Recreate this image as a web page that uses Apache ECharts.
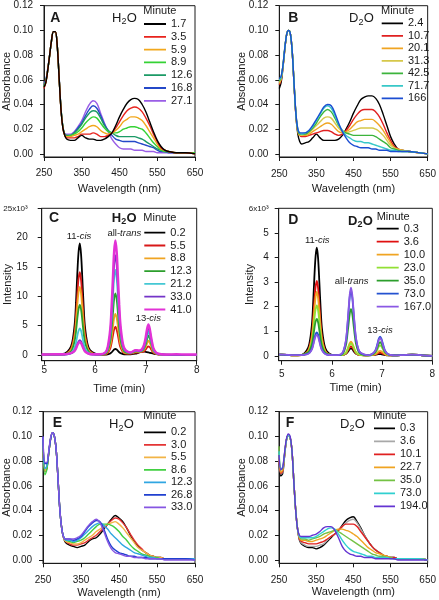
<!DOCTYPE html>
<html><head><meta charset="utf-8">
<script src="https://cdn.jsdelivr.net/npm/echarts@6/dist/echarts.min.js"></script>
<style>html,body{margin:0;padding:0;background:#fff}#c{width:439px;height:600px}</style>
</head><body><div id="c"></div>
<script>
// ---------- DATA ----------
const wavelength = [250,255,260,265,270,275,280,285,290,295,300,305,310,320,330,340,350,360,370,380,390,400,410,420,430,440,450,460,470,480,490,500,510,520,530,540,550,560,570,580,600,625,650];
const wlTicks = [250,350,450,550,650];
const absTicks = [0,0.02,0.04,0.06,0.08,0.10,0.12];
const timeTicks = [5,6,7,8];
const intTicksC = [0,5,10,15,20,25];
const intTicksD = [0,1,2,3,4,5,6];

const minutesA = ['1.7','3.5','5.9','8.9','12.6','16.8','27.1'];
const minutesB = ['2.4','10.7','20.1','31.3','42.5','71.7','166'];
const minutesC = ['0.2','5.5','8.8','12.3','21.2','33.0','41.0'];
const minutesD = ['0.3','3.6','10.0','23.0','35.0','73.0','167.0'];
const minutesE = ['0.2','3.0','5.5','8.6','12.3','26.8','33.0'];
const minutesF = ['0.3','3.6','10.1','22.7','35.0','73.0','194.0'];

// Panel A (H2O)
const absA1 = [0.054,0.058,0.068,0.080,0.092,0.099,0.099,0.088,0.062,0.036,0.021,0.015,0.012,0.011,0.011,0.013,0.015,0.013,0.012,0.012,0.011,0.011,0.012,0.014,0.017,0.023,0.030,0.036,0.041,0.044,0.045,0.044,0.040,0.034,0.026,0.018,0.011,0.006,0.003,0.002,0.001,0.001,0.000];
const absA2 = [0.053,0.058,0.068,0.080,0.092,0.099,0.099,0.088,0.062,0.036,0.021,0.015,0.013,0.013,0.013,0.014,0.016,0.016,0.016,0.017,0.016,0.014,0.014,0.015,0.017,0.021,0.026,0.031,0.035,0.037,0.038,0.037,0.034,0.029,0.023,0.016,0.010,0.005,0.003,0.002,0.001,0.001,0.000];
const absA3 = [0.054,0.058,0.068,0.080,0.092,0.099,0.099,0.088,0.062,0.036,0.021,0.015,0.014,0.014,0.015,0.016,0.018,0.020,0.022,0.023,0.022,0.019,0.017,0.016,0.017,0.019,0.022,0.026,0.028,0.030,0.030,0.029,0.027,0.023,0.018,0.013,0.008,0.004,0.003,0.002,0.001,0.001,0.000];
const absA4 = [0.055,0.059,0.068,0.080,0.092,0.099,0.099,0.088,0.062,0.037,0.022,0.015,0.014,0.015,0.016,0.018,0.021,0.025,0.028,0.030,0.029,0.025,0.021,0.018,0.017,0.017,0.018,0.020,0.021,0.022,0.022,0.021,0.020,0.017,0.013,0.009,0.006,0.003,0.002,0.002,0.001,0.001,0.001];
const absA5 = [0.055,0.059,0.068,0.080,0.092,0.099,0.099,0.088,0.062,0.037,0.022,0.016,0.015,0.015,0.017,0.020,0.024,0.029,0.033,0.035,0.034,0.029,0.023,0.019,0.017,0.015,0.014,0.014,0.014,0.014,0.014,0.013,0.012,0.010,0.008,0.006,0.004,0.003,0.002,0.002,0.001,0.001,0.001];
const absA6 = [0.056,0.060,0.069,0.080,0.092,0.099,0.099,0.088,0.062,0.037,0.022,0.016,0.015,0.015,0.017,0.021,0.025,0.031,0.036,0.039,0.037,0.031,0.024,0.019,0.015,0.012,0.011,0.010,0.010,0.010,0.010,0.009,0.008,0.007,0.006,0.005,0.003,0.002,0.002,0.001,0.001,0.001,0.001];
const absA7 = [0.057,0.060,0.069,0.080,0.092,0.099,0.099,0.088,0.063,0.037,0.022,0.016,0.016,0.016,0.018,0.022,0.027,0.034,0.040,0.043,0.041,0.033,0.025,0.018,0.012,0.008,0.005,0.004,0.004,0.004,0.003,0.003,0.003,0.002,0.002,0.002,0.001,0.001,0.001,0.001,0.001,0.001,0.001];

// Panel B (D2O)
const absB1 = [0.053,0.058,0.070,0.085,0.097,0.100,0.097,0.082,0.055,0.030,0.016,0.010,0.008,0.009,0.010,0.013,0.016,0.013,0.011,0.011,0.011,0.011,0.012,0.015,0.020,0.026,0.033,0.039,0.044,0.046,0.047,0.047,0.045,0.040,0.032,0.023,0.014,0.008,0.004,0.003,0.002,0.001,0.000];
const absB2 = [0.056,0.060,0.071,0.085,0.097,0.100,0.097,0.082,0.055,0.031,0.018,0.015,0.014,0.014,0.015,0.016,0.017,0.018,0.019,0.019,0.018,0.016,0.015,0.016,0.019,0.023,0.028,0.032,0.035,0.036,0.036,0.036,0.034,0.030,0.024,0.017,0.011,0.006,0.004,0.003,0.002,0.001,0.000];
const absB3 = [0.057,0.061,0.071,0.085,0.097,0.100,0.097,0.082,0.056,0.031,0.018,0.015,0.015,0.015,0.016,0.018,0.020,0.022,0.024,0.025,0.024,0.021,0.018,0.017,0.018,0.020,0.023,0.026,0.027,0.028,0.028,0.028,0.026,0.023,0.019,0.014,0.009,0.005,0.004,0.003,0.002,0.001,0.000];
const absB4 = [0.058,0.061,0.071,0.085,0.097,0.100,0.097,0.082,0.056,0.031,0.019,0.016,0.015,0.016,0.017,0.020,0.023,0.026,0.029,0.030,0.029,0.025,0.021,0.018,0.017,0.018,0.019,0.020,0.021,0.021,0.021,0.021,0.020,0.018,0.015,0.011,0.007,0.005,0.003,0.003,0.002,0.001,0.000];
const absB5 = [0.059,0.062,0.072,0.086,0.097,0.100,0.097,0.082,0.056,0.032,0.019,0.016,0.016,0.016,0.018,0.021,0.025,0.030,0.034,0.036,0.034,0.029,0.023,0.019,0.017,0.016,0.015,0.015,0.015,0.015,0.015,0.015,0.014,0.012,0.010,0.008,0.005,0.004,0.003,0.002,0.002,0.001,0.000];
const absB6 = [0.060,0.062,0.072,0.086,0.097,0.100,0.097,0.082,0.056,0.032,0.020,0.017,0.016,0.017,0.019,0.022,0.027,0.032,0.037,0.039,0.037,0.031,0.024,0.019,0.015,0.013,0.011,0.010,0.010,0.009,0.009,0.008,0.007,0.006,0.005,0.004,0.003,0.003,0.002,0.002,0.002,0.001,0.000];
const absB7 = [0.061,0.063,0.072,0.086,0.097,0.100,0.097,0.082,0.056,0.032,0.020,0.017,0.017,0.017,0.019,0.023,0.028,0.033,0.038,0.040,0.039,0.033,0.025,0.018,0.013,0.009,0.007,0.006,0.005,0.005,0.005,0.004,0.004,0.003,0.003,0.003,0.002,0.002,0.002,0.002,0.002,0.001,0.000];

// Panel C (HPLC, H2O), intensity in 10^3
const timeC = [4.95,5.0,5.2,5.4,5.5,5.55,5.6,5.625,5.65,5.675,5.7,5.725,5.75,5.775,5.8,5.85,5.9,6.0,6.1,6.2,6.25,6.3,6.325,6.35,6.375,6.4,6.425,6.45,6.475,6.5,6.55,6.6,6.7,6.8,6.85,6.9,6.95,6.975,7.0,7.025,7.05,7.075,7.1,7.125,7.15,7.2,7.25,7.3,7.4,7.6,7.8,8.0];
const intC1 = [0.05,0.05,0.05,0.2,1.0,2.1,5.3,8.9,13.7,17.5,19.0,17.1,12.9,8.4,4.9,1.9,0.8,0.2,0.05,0.05,0.1,0.25,0.42,0.66,0.9,1.0,0.9,0.68,0.45,0.3,0.14,0.08,0.1,0.2,0.35,0.5,0.55,0.55,0.5,0.45,0.4,0.35,0.3,0.25,0.2,0.12,0.08,0.05,0.02,0.0,0.0,0.0];
const intC2 = [0.05,0.05,0.05,0.1,0.7,1.6,3.9,6.6,10.2,13.0,14.1,12.7,9.6,6.2,3.7,1.4,0.6,0.1,0.05,0.1,0.35,1.1,2.0,3.2,4.3,4.8,4.3,3.3,2.1,1.25,0.45,0.2,0.2,0.4,0.4,0.45,0.55,0.7,0.95,1.25,1.45,1.3,1.0,0.6,0.35,0.15,0.05,0.02,0.0,0.0,0.0,0.0];
const intC3 = [0.05,0.05,0.05,0.1,0.6,1.3,3.2,5.5,8.4,10.7,11.6,10.4,7.9,5.1,3.0,1.2,0.5,0.1,0.05,0.15,0.5,1.6,2.9,4.6,6.3,7.0,6.3,4.8,3.1,1.8,0.65,0.3,0.25,0.5,0.5,0.55,0.75,1.0,1.4,2.0,2.4,2.1,1.5,0.9,0.5,0.2,0.1,0.03,0.0,0.0,0.0,0.0];
const intC4 = [0.05,0.05,0.05,0.1,0.4,0.9,2.4,4.0,6.1,7.8,8.5,7.7,5.8,3.7,2.2,0.9,0.3,0.1,0.05,0.2,0.7,2.4,4.4,6.9,9.5,10.5,9.5,7.1,4.6,2.7,0.95,0.4,0.3,0.6,0.55,0.6,0.9,1.3,1.9,2.7,3.3,2.9,2.1,1.3,0.7,0.25,0.1,0.03,0.0,0.0,0.0,0.0];
const intC5 = [0.05,0.05,0.05,0.05,0.2,0.5,1.3,2.1,3.2,4.1,4.5,4.1,3.1,2.0,1.2,0.5,0.2,0.05,0.05,0.3,1.0,3.3,6.1,9.6,13.1,14.5,13.1,9.9,6.4,3.8,1.3,0.6,0.35,0.7,0.6,0.65,1.0,1.6,2.3,3.3,4.0,3.5,2.5,1.5,0.8,0.3,0.1,0.05,0.0,0.0,0.0,0.0];
const intC6 = [0.05,0.05,0.05,0.05,0.15,0.3,0.7,1.2,1.8,2.3,2.5,2.3,1.7,1.1,0.7,0.3,0.1,0.05,0.05,0.35,1.2,3.9,7.1,11.2,15.3,17.0,15.3,11.6,7.5,4.4,1.5,0.7,0.4,0.75,0.65,0.7,1.1,1.8,2.7,3.8,4.6,4.1,2.9,1.8,1.0,0.35,0.15,0.1,0.0,0.0,0.0,0.0];
const intC7 = [0.1,0.05,0.1,0.1,0.25,0.4,0.7,1.1,1.6,2.0,2.2,2.0,1.5,1.0,0.6,0.3,0.15,0.1,0.1,0.4,1.4,4.5,8.2,12.9,17.6,19.5,17.6,13.3,8.6,5.1,1.8,0.8,0.4,0.8,0.75,0.8,1.4,2.1,3.2,4.5,5.2,4.5,3.2,2.0,1.1,0.4,0.2,0.1,0.05,0.1,0.05,0.05];

// Panel D (HPLC, D2O), intensity in 10^3
const timeD = [4.95,5.0,5.2,5.4,5.5,5.55,5.6,5.625,5.65,5.675,5.7,5.725,5.75,5.775,5.8,5.85,5.9,6.0,6.1,6.18,6.23,6.28,6.305,6.33,6.355,6.38,6.405,6.43,6.455,6.48,6.53,6.58,6.7,6.76,6.81,6.86,6.885,6.91,6.935,6.96,6.985,7.01,7.035,7.06,7.11,7.16,7.25,7.4,7.6,7.8,8.0];
const intD1 = [0.05,0.05,0.02,0.04,0.22,0.48,1.23,2.07,3.17,4.05,4.4,3.96,2.99,1.94,1.14,0.44,0.18,0.04,0.03,0.03,0.04,0.08,0.13,0.2,0.27,0.3,0.27,0.2,0.13,0.08,0.04,0.03,0.02,0.02,0.03,0.04,0.05,0.06,0.07,0.07,0.06,0.05,0.04,0.03,0.02,0.02,0.02,0.03,0.05,0.02,0.0];
const intD2 = [0.05,0.05,0.02,0.03,0.15,0.34,0.85,1.43,2.2,2.81,3.05,2.75,2.07,1.34,0.79,0.31,0.12,0.03,0.03,0.03,0.04,0.09,0.16,0.25,0.34,0.38,0.34,0.26,0.17,0.1,0.04,0.03,0.02,0.03,0.04,0.05,0.07,0.09,0.12,0.13,0.12,0.09,0.07,0.05,0.03,0.02,0.02,0.03,0.05,0.02,0.0];
const intD3 = [0.05,0.05,0.02,0.03,0.13,0.29,0.73,1.22,1.87,2.39,2.6,2.34,1.77,1.14,0.68,0.26,0.1,0.03,0.03,0.03,0.05,0.13,0.24,0.38,0.51,0.57,0.51,0.39,0.25,0.15,0.05,0.03,0.02,0.03,0.04,0.06,0.09,0.13,0.18,0.2,0.18,0.14,0.1,0.06,0.03,0.02,0.02,0.03,0.05,0.02,0.0];
const intD4 = [0.05,0.05,0.02,0.03,0.1,0.23,0.57,0.96,1.48,1.89,2.05,1.85,1.39,0.9,0.53,0.21,0.08,0.03,0.03,0.03,0.05,0.12,0.21,0.33,0.45,0.5,0.45,0.34,0.22,0.13,0.05,0.03,0.02,0.03,0.05,0.11,0.18,0.27,0.38,0.42,0.38,0.29,0.19,0.12,0.05,0.03,0.02,0.03,0.05,0.02,0.0];
const intD5 = [0.05,0.05,0.03,0.04,0.11,0.2,0.45,0.73,1.1,1.39,1.5,1.36,1.03,0.68,0.41,0.17,0.08,0.03,0.03,0.04,0.13,0.44,0.8,1.25,1.71,1.9,1.71,1.29,0.84,0.49,0.17,0.08,0.02,0.03,0.06,0.14,0.23,0.36,0.5,0.55,0.5,0.37,0.25,0.15,0.06,0.03,0.02,0.03,0.05,0.02,0.0];
const intD6 = [0.05,0.05,0.03,0.03,0.07,0.12,0.28,0.46,0.69,0.88,0.95,0.86,0.65,0.43,0.26,0.11,0.05,0.03,0.03,0.05,0.19,0.61,1.11,1.75,2.39,2.65,2.39,1.8,1.17,0.69,0.24,0.1,0.03,0.04,0.08,0.2,0.33,0.51,0.7,0.78,0.7,0.53,0.35,0.21,0.08,0.04,0.02,0.03,0.05,0.02,0.0];
const intD7 = [0.06,0.05,0.03,0.03,0.06,0.11,0.25,0.41,0.62,0.79,0.85,0.77,0.58,0.38,0.23,0.1,0.05,0.03,0.03,0.06,0.19,0.64,1.16,1.83,2.49,2.77,2.49,1.88,1.22,0.72,0.25,0.11,0.03,0.04,0.08,0.18,0.3,0.47,0.65,0.72,0.65,0.49,0.32,0.19,0.07,0.04,0.02,0.03,0.05,0.02,0.0];

// Panel E (H2O)
const absE1 = [0.098,0.072,0.074,0.086,0.098,0.103,0.100,0.088,0.063,0.038,0.024,0.017,0.014,0.012,0.011,0.010,0.011,0.012,0.015,0.017,0.018,0.021,0.025,0.029,0.033,0.036,0.034,0.031,0.026,0.020,0.015,0.011,0.008,0.006,0.004,0.003,0.002,0.002,0.001,0.001,0.001,0.001,0.001];
const absE2 = [0.098,0.072,0.075,0.086,0.098,0.103,0.100,0.088,0.063,0.038,0.024,0.017,0.015,0.013,0.012,0.012,0.013,0.014,0.016,0.018,0.020,0.023,0.026,0.029,0.032,0.034,0.033,0.030,0.026,0.021,0.016,0.012,0.009,0.006,0.004,0.003,0.002,0.002,0.001,0.001,0.001,0.001,0.001];
const absE3 = [0.098,0.072,0.075,0.086,0.098,0.103,0.100,0.088,0.063,0.038,0.024,0.017,0.015,0.014,0.013,0.013,0.014,0.016,0.018,0.020,0.023,0.025,0.027,0.029,0.030,0.031,0.029,0.026,0.022,0.018,0.014,0.010,0.008,0.006,0.004,0.003,0.002,0.002,0.001,0.001,0.001,0.001,0.001];
const absE4 = [0.098,0.069,0.073,0.086,0.098,0.103,0.100,0.088,0.063,0.038,0.024,0.018,0.016,0.015,0.014,0.015,0.016,0.018,0.021,0.024,0.027,0.029,0.029,0.029,0.028,0.026,0.023,0.019,0.016,0.012,0.009,0.007,0.005,0.004,0.003,0.002,0.002,0.001,0.001,0.001,0.001,0.001,0.001];
const absE5 = [0.099,0.074,0.076,0.087,0.098,0.103,0.100,0.088,0.063,0.038,0.024,0.018,0.016,0.016,0.015,0.016,0.018,0.021,0.024,0.027,0.029,0.030,0.028,0.025,0.021,0.018,0.015,0.012,0.010,0.008,0.006,0.005,0.004,0.003,0.002,0.002,0.001,0.001,0.001,0.001,0.001,0.001,0.001];
const absE6 = [0.100,0.078,0.078,0.087,0.098,0.103,0.100,0.088,0.063,0.038,0.024,0.018,0.017,0.017,0.016,0.017,0.019,0.023,0.027,0.030,0.032,0.031,0.025,0.017,0.011,0.008,0.006,0.005,0.004,0.003,0.003,0.002,0.002,0.002,0.001,0.001,0.001,0.001,0.001,0.001,0.001,0.001,0.000];
const absE7 = [0.100,0.079,0.079,0.088,0.099,0.103,0.100,0.088,0.063,0.038,0.024,0.018,0.017,0.017,0.017,0.018,0.020,0.024,0.028,0.031,0.033,0.030,0.023,0.015,0.009,0.006,0.005,0.004,0.003,0.003,0.002,0.002,0.002,0.001,0.001,0.001,0.001,0.001,0.000,0.000,0.000,0.000,0.000];

// Panel F (D2O)
const absF1 = [0.080,0.068,0.070,0.084,0.097,0.101,0.099,0.088,0.063,0.040,0.025,0.016,0.013,0.011,0.010,0.010,0.009,0.010,0.012,0.015,0.018,0.021,0.024,0.028,0.032,0.034,0.035,0.031,0.026,0.020,0.015,0.011,0.008,0.006,0.004,0.003,0.002,0.002,0.001,0.001,0.001,0.001,0.000];
const absF2 = [0.082,0.070,0.071,0.084,0.097,0.101,0.099,0.088,0.063,0.040,0.025,0.017,0.014,0.012,0.011,0.011,0.011,0.012,0.013,0.016,0.019,0.021,0.024,0.027,0.030,0.032,0.033,0.030,0.025,0.020,0.015,0.011,0.008,0.006,0.004,0.003,0.002,0.002,0.001,0.001,0.001,0.001,0.000];
const absF3 = [0.084,0.070,0.072,0.085,0.097,0.101,0.099,0.088,0.063,0.040,0.025,0.017,0.015,0.014,0.013,0.013,0.013,0.014,0.015,0.017,0.019,0.021,0.024,0.027,0.029,0.029,0.029,0.027,0.023,0.019,0.015,0.011,0.008,0.006,0.004,0.003,0.002,0.002,0.001,0.001,0.001,0.001,0.000];
const absF4 = [0.086,0.071,0.073,0.085,0.097,0.101,0.099,0.088,0.063,0.040,0.025,0.018,0.016,0.016,0.015,0.015,0.016,0.017,0.018,0.020,0.022,0.024,0.025,0.025,0.024,0.023,0.021,0.019,0.016,0.013,0.010,0.008,0.006,0.005,0.004,0.003,0.002,0.001,0.001,0.001,0.001,0.001,0.000];
const absF5 = [0.092,0.073,0.074,0.086,0.097,0.101,0.099,0.088,0.063,0.040,0.025,0.019,0.017,0.017,0.016,0.017,0.018,0.019,0.021,0.022,0.023,0.024,0.023,0.021,0.019,0.017,0.015,0.013,0.011,0.009,0.007,0.005,0.004,0.003,0.003,0.002,0.002,0.001,0.001,0.001,0.001,0.001,0.000];
const absF6 = [0.088,0.074,0.075,0.086,0.097,0.101,0.099,0.088,0.063,0.040,0.025,0.019,0.018,0.018,0.018,0.018,0.019,0.021,0.023,0.025,0.026,0.025,0.021,0.016,0.012,0.009,0.007,0.006,0.005,0.004,0.003,0.003,0.002,0.002,0.002,0.002,0.001,0.001,0.001,0.001,0.001,0.001,0.000];
const absF7 = [0.085,0.073,0.075,0.087,0.098,0.102,0.100,0.088,0.063,0.040,0.025,0.020,0.019,0.019,0.019,0.020,0.021,0.023,0.026,0.027,0.027,0.024,0.018,0.011,0.007,0.005,0.004,0.003,0.003,0.002,0.002,0.002,0.001,0.001,0.001,0.001,0.001,0.001,0.000,0.000,0.000,0.000,0.000];

// ---------- STYLE / LAYOUT ----------
const FONT = '"Liberation Sans", Arial, Helvetica, sans-serif';
const INK = '#1a1a1a';
const LINE_ICON = 'path://M0,0h1v0.01h-1z M0,4.6h22v1.8h-22z M0,11h1v0.01h-1z';
const colorsA = ['#000000','#e8231d','#f2a81d','#35d235','#1b9a66','#2448c8','#9a5ee6'];
const colorsB = ['#000000','#e02020','#f0a422','#d6c84a','#3cb43c','#38c8c8','#1c4ed2'];
const colorsC = ['#000000','#d81818','#f0a422','#2c9e2c','#44c8d4','#7434c8','#e232d6'];
const colorsD = ['#000000','#e01010','#f0a422','#92e034','#2c9e2c','#2452d0','#8a58e4'];
const colorsE = ['#000000','#e43434','#f2b446','#42d042','#30a6e2','#2040d0','#8656e2'];
const colorsF = ['#000000','#a8a8a8','#e02020','#f0a422','#74c244','#30d0d0','#6434d2'];

const panels = [
  {k:'A', x:wavelength, ys:[absA1,absA2,absA3,absA4,absA5,absA6,absA7], names:minutesA, colors:colorsA, reverse:true, lw:1.4,
   grid:[43.3,5.7,151.7,151.3], xr:[250,650], yr:[-0.0025,0.12], xt:wlTicks, yt:absTicks, yfmt:v=>v.toFixed(2),
   xname:'Wavelength (nm)', yname:'Absorbance', xm:11, ym:11, xg:26, yg:32,
   leg:{left:144, top:18.5, gap:1.8, w:22}},
  {k:'B', x:wavelength, ys:[absB1,absB2,absB3,absB4,absB5,absB6,absB7], names:minutesB, colors:colorsB, reverse:false, lw:1.4,
   grid:[279.3,5.7,151.4,151.3], xr:[250,650], yr:[-0.0025,0.12], xt:wlTicks, yt:absTicks, yfmt:v=>v.toFixed(2),
   xname:'Wavelength (nm)', yname:'Absorbance', xm:12, ym:11, xg:26, yg:32,
   leg:{left:381.7, top:17.8, gap:1.5, w:21.3}},
  {k:'C', x:timeC, ys:[intC1,intC2,intC3,intC4,intC5,intC6,intC7], names:minutesC, colors:colorsC, reverse:false, lw:1.8,
   grid:[41.7,208.3,155,152.4], xr:[4.95,8.0], yr:[-1,25], xt:timeTicks, yt:intTicksC, yfmt:v=>v===25?'{s|25x10³}':String(v),
   xname:'Time (min)', yname:'Intensity', xm:5, ym:14, xg:23, yg:28,
   leg:{left:144.3, top:227.2, gap:1.8, w:21}},
  {k:'D', x:timeD, ys:[intD1,intD2,intD3,intD4,intD5,intD6,intD7], names:minutesD, colors:colorsD, reverse:false, lw:1.8,
   grid:[278.7,208.3,153.6,152.4], xr:[4.94,8.0], yr:[-0.2,6], xt:timeTicks, yt:intTicksD, yfmt:v=>v===6?'{s|6x10³}':String(v),
   xname:'Time (min)', yname:'Intensity', xm:9, ym:10, xg:22, yg:23,
   leg:{left:376.7, top:223.2, gap:2, w:22}},
  {k:'E', x:wavelength, ys:[absE1,absE2,absE3,absE4,absE5,absE6,absE7], names:minutesE, colors:colorsE, reverse:false, lw:1.4,
   grid:[42.7,411.7,152.3,151.6], xr:[250,650], yr:[-0.0027,0.12], xt:wlTicks, yt:absTicks, yfmt:v=>v.toFixed(2),
   xname:'Wavelength (nm)', yname:'Absorbance', xm:11.5, ym:11, xg:24, yg:31,
   leg:{left:144, top:426.8, gap:1.5, w:22}},
  {k:'F', x:wavelength, ys:[absF1,absF2,absF3,absF4,absF5,absF6,absF7], names:minutesF, colors:colorsF, reverse:false, lw:1.4,
   grid:[279,411.7,151.7,151.6], xr:[250,650], yr:[-0.0027,0.12], xt:wlTicks, yt:absTicks, yfmt:v=>v.toFixed(2),
   xname:'Wavelength (nm)', yname:'Absorbance', xm:11.5, ym:11, xg:23, yg:32,
   leg:{left:374, top:422.8, gap:2, w:21}}
];

const grids=[], xAxes=[], yAxes=[], series=[], legends=[];
panels.forEach((p,gi)=>{
  grids.push({left:p.grid[0], top:p.grid[1], width:p.grid[2], height:p.grid[3], show:true, borderColor:INK, borderWidth:1, backgroundColor:'rgba(0,0,0,0)'});
  const axisCommon = {
    axisLine:{show:true, onZero:false, lineStyle:{color:INK, width:1}},
    axisTick:{show:true, inside:false, length:4, lineStyle:{color:INK, width:1}},
    splitLine:{show:false},
    nameLocation:'middle', nameMoveOverlap:false,
    nameTextStyle:{fontFamily:FONT, fontSize:11, color:INK}
  };
  xAxes.push(Object.assign({}, axisCommon, {
    type:'value', gridIndex:gi, min:p.xr[0], max:p.xr[1], name:p.xname, nameGap:p.xg,
    axisTick:Object.assign({}, axisCommon.axisTick, {customValues:p.xt}),
    axisLabel:{customValues:p.xt, fontFamily:FONT, fontSize:10, color:INK, margin:p.xm}
  }));
  yAxes.push(Object.assign({}, axisCommon, {
    type:'value', gridIndex:gi, min:p.yr[0], max:p.yr[1], name:p.yname, nameGap:p.yg,
    axisTick:Object.assign({}, axisCommon.axisTick, {customValues:p.yt}),
    axisLabel:{customValues:p.yt, fontFamily:FONT, fontSize:10, color:INK, margin:p.ym, formatter:p.yfmt,
      rich:{s:{fontFamily:FONT, fontSize:8, color:INK}}}
  }));
  const order = p.ys.map((_,i)=>i);
  if (p.reverse) order.reverse();
  order.forEach(i=>{
    const xs = p.x, ys = p.ys[i];
    series.push({
      type:'line', name:p.k+'|'+p.names[i], xAxisIndex:gi, yAxisIndex:gi,
      data: xs.map((v,j)=>[v, ys[j]]),
      showSymbol:false, symbol:'none', smooth:0.35, clip:true, animation:false,
      lineStyle:{color:p.colors[i], width:(p.k==='C'&&i===6)?2.4:p.lw},
      itemStyle:{color:p.colors[i]}
    });
  });
  legends.push({
    data:p.names.map(n=>({name:p.k+'|'+n, icon:LINE_ICON})), orient:'vertical', left:p.leg.left, top:p.leg.top,
    itemWidth:p.leg.w, itemHeight:11, itemGap:p.leg.gap, padding:0, selectedMode:false, symbolKeepAspect:false,
    formatter:n=>n.split('|')[1],
    textStyle:{fontFamily:FONT, fontSize:11, color:INK}
  });
});

// texts: panel letters, solvent labels, "Minute", peak labels
const graphics = [];
function txt(x,y,t,size,opt){
  graphics.push({type:'text', x:x, y:y, silent:true, style:Object.assign({text:t, font:(opt&&opt.bold?'bold ':'')+size+'px '+FONT, fill:INK, textAlign:(opt&&opt.align)||'left', textVerticalAlign:'middle'})});
}
function solvent(x,y,first,bold){
  txt(x,y,first,13,{bold:bold});
  txt(x+9.6,y+4,'2',9,{bold:bold});
  txt(x+14.8,y,'O',13,{bold:bold});
}
const letters = [['A',55.3,18],['B',293.3,18.3],['C',54,218.3],['D',293.3,220],['E',57.3,422.7],['F',290,422.7]];
letters.forEach(l=>txt(l[1],l[2],l[0],14,{bold:true, align:'center'}));
solvent(112,18,'H',false); solvent(349,18.5,'D',false);
solvent(111.7,218,'H',true); solvent(348,221,'D',true);
solvent(109,424.5,'H',false); solvent(340,424.5,'D',false);
[[143.3,11],[381,10.5],[143.3,218.3],[376.7,216.7],[143.3,416],[373.3,416]].forEach(m=>txt(m[0],m[1],'Minute',11));
function peak(x,y,a,b){
  graphics.push({type:'text', x:x, y:y, silent:true, style:{
    text:'{n|'+a+'}{i|'+b+'}', textAlign:'center', textVerticalAlign:'middle',
    rich:{n:{fontFamily:FONT, fontSize:9.5, fill:INK, color:INK}, i:{fontFamily:FONT, fontSize:9.5, fontStyle:'italic', fill:INK, color:INK}}
  }});
}
peak(79,236.5,'11-','cis'); peak(124.3,233.5,'all-','trans'); peak(148.3,318,'13-','cis');
peak(317.3,240.7,'11-','cis'); peak(351.7,281,'all-','trans'); peak(380,330,'13-','cis');

const chart = echarts.init(document.getElementById('c'), null, {renderer:'canvas'});
chart.setOption({
  animation:false, backgroundColor:'#fff',
  grid:grids, xAxis:xAxes, yAxis:yAxes, series:series, legend:legends, graphic:graphics
});
</script></body></html>
